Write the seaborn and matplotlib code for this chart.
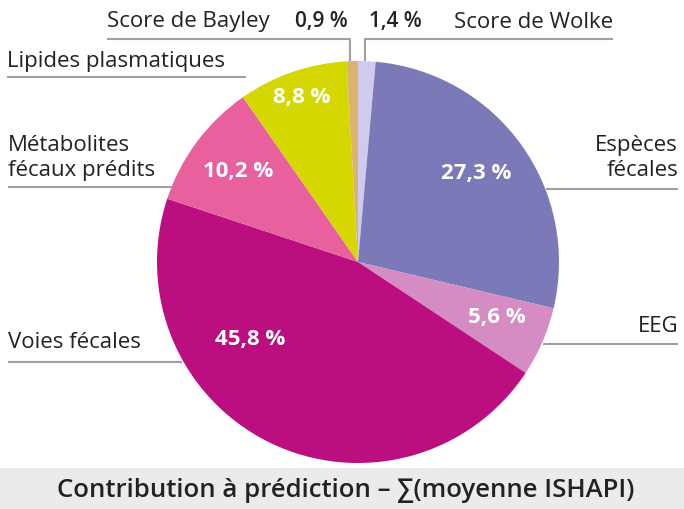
import matplotlib.pyplot as plt
import seaborn as sns

# data (clockwise from 12 o'clock)
categories = ["Score de Wolke", "Espèces\nfécales", "EEG", "Voies fécales",
              "Métabolites\nfécaux prédits", "Lipides plasmatiques", "Score de Bayley"]
shares = [1.4, 27.3, 5.6, 45.8, 10.2, 8.8, 0.9]
colors = ["#cfcbec", "#7b79b8", "#d58cc3", "#bb0e7f", "#e8609e", "#d4d800", "#dcb36e"]
title = "Contribution à prédiction – ∑(moyenne ISHAPI)"

W, H = 684, 510
sns.set_theme(style="white")
plt.rcParams['font.family'] = ['Open Sans', 'DejaVu Sans']

fig = plt.figure(figsize=(W / 100, H / 100), dpi=100)
ax = fig.add_axes([0, 0, 1, 1])

cx, cy, r = 358, 263, 201


def Y(y):
    return H - y


ax.pie(shares, colors=colors, startangle=90, counterclock=False,
       center=(cx, Y(cy)), radius=r, wedgeprops=dict(linewidth=0))
ax.set_xlim(0, W)
ax.set_ylim(0, H)
ax.set_aspect('equal')
ax.axis('off')


def fmt(v):
    return f"{v:.1f}".replace('.', ',') + " %"


# inner value labels (pixel positions)
inner = {1: (476, 173), 2: (497, 318), 3: (250, 340), 4: (238, 172), 5: (302, 98)}
for i, (x, y) in inner.items():
    ax.text(x, Y(y), fmt(shares[i]), color="white", fontsize=16, fontweight="bold",
            ha="center", va="center")

# small slices: values outside at top
ax.text(321, Y(22), fmt(shares[6]), color="#222222", fontsize=15, fontweight="semibold",
        ha="center", va="center")
ax.text(395, Y(22), fmt(shares[0]), color="#222222", fontsize=15, fontweight="semibold",
        ha="center", va="center")

line_kw = dict(color="#a0a0a0", lw=1.5, solid_capstyle="butt")
txt_kw = dict(color="#222222", fontsize=16)

# Score de Bayley / Wolke
ax.plot([107, 350, 350], [Y(40), Y(40), Y(62)], **line_kw)
ax.plot([613, 365, 365], [Y(40), Y(40), Y(62)], **line_kw)
ax.text(107, Y(22), categories[6], ha="left", va="center", **txt_kw)
ax.text(613, Y(22), categories[0], ha="right", va="center", **txt_kw)

# left labels
ax.plot([7, 246], [Y(78), Y(78)], **line_kw)
ax.text(7, Y(61), categories[5], ha="left", va="center", **txt_kw)
ax.plot([8, 172], [Y(188), Y(188)], **line_kw)
ax.text(8, Y(158), categories[4], ha="left", va="center", linespacing=1.25, **txt_kw)
ax.plot([8, 182], [Y(363), Y(363)], **line_kw)
ax.text(8, Y(343), categories[3], ha="left", va="center", **txt_kw)

# right labels
ax.plot([546, 678], [Y(190), Y(190)], **line_kw)
ax.text(678, Y(158), categories[1], ha="right", va="center", linespacing=1.25, **txt_kw)
ax.plot([543, 678], [Y(345), Y(345)], **line_kw)
ax.text(678, Y(326), categories[2], ha="right", va="center", **txt_kw)

# bottom title band
ax.axhspan(0, Y(469), color="#ebebeb", lw=0)
ax.text(346, Y(491), title, ha="center", va="center", color="#222222", fontsize=18.5,
        fontweight="semibold")

fig.savefig("out.png", dpi=100)
